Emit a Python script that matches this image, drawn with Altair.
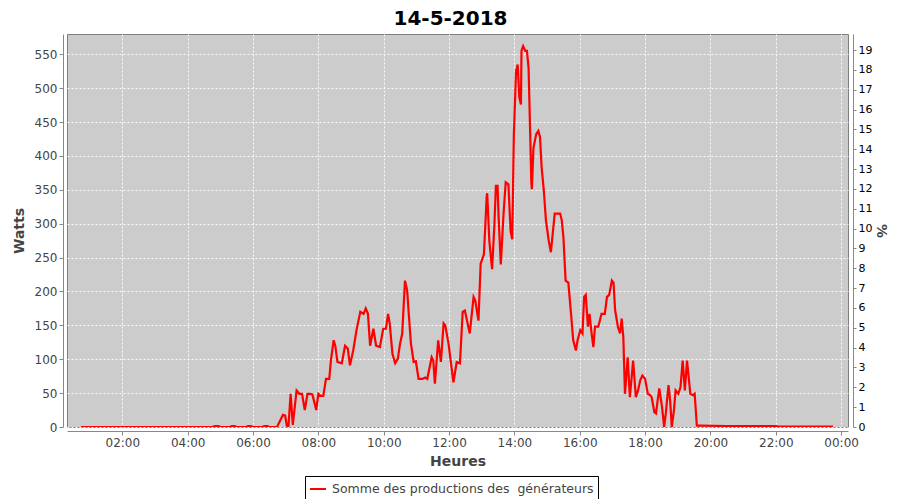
import altair as alt
import pandas as pd

title_text = "14-5-2018"
series_name = "Somme des productions des\u00a0 générateurs"

times = ["00:44", "02:00", "03:00", "04:00", "04:45", "04:50", "04:56", "05:00",
         "05:17", "05:21", "05:26", "05:30", "05:47", "05:51", "05:56", "06:00",
         "06:17", "06:21", "06:26", "06:30", "06:44",
         "06:55", "06:59", "07:02", "07:05", "07:09", "07:13", "07:16", "07:20",
         "07:25", "07:30", "07:35", "07:40", "07:45", "07:49", "07:56", "08:00",
         "08:04", "08:09", "08:14", "08:20", "08:23", "08:28", "08:31", "08:35",
         "08:43", "08:49", "08:54", "08:58", "09:04", "09:10", "09:17", "09:23",
         "09:27", "09:31", "09:35", "09:41", "09:46", "09:53", "09:59", "10:04",
         "10:08", "10:11", "10:16", "10:21", "10:26", "10:30", "10:34", "10:39",
         "10:43", "10:46", "10:50", "10:55", "10:59", "11:04", "11:11", "11:16",
         "11:20", "11:28", "11:31", "11:34", "11:40", "11:45", "11:50", "11:53",
         "11:59", "12:08", "12:14", "12:20", "12:25", "12:29", "12:38", "12:45",
         "12:48", "12:54", "12:58", "13:04", "13:09", "13:10", "13:14", "13:19",
         "13:23", "13:26", "13:29", "13:31", "13:35", "13:40", "13:44", "13:49",
         "13:53", "13:56", "13:59", "14:03", "14:06", "14:09", "14:12", "14:13",
         "14:16", "14:20", "14:23", "14:26", "14:29", "14:31", "14:32", "14:35",
         "14:40", "14:44", "14:47", "14:50", "14:54", "14:58", "15:03", "15:07",
         "15:14", "15:24", "15:27", "15:30", "15:34", "15:39", "15:44", "15:48",
         "15:53", "15:56", "16:01", "16:05", "16:08", "16:11", "16:15", "16:18",
         "16:21", "16:25", "16:28", "16:34", "16:40", "16:46", "16:50", "16:54",
         "16:59", "17:02", "17:05", "17:10", "17:14", "17:17", "17:20", "17:23",
         "17:28", "17:32", "17:38", "17:43", "17:47", "17:51", "17:55", "18:00",
         "18:05", "18:09", "18:12", "18:17", "18:20", "18:23", "18:26", "18:31",
         "18:35", "18:38", "18:43", "18:46", "18:49", "18:53", "18:56", "19:01",
         "19:05", "19:09", "19:13", "19:17", "19:20", "19:23", "19:28", "19:31",
         "19:35", "19:41", "20:30", "21:30", "22:00", "22:05", "23:00", "23:45"]

watts = [0, 0, 0, 0, 0, 1.5, 1.5, 0,
         0, 1.5, 1.5, 0, 0, 1.5, 1.5, 0,
         0, 1.5, 1.5, 0, 0,
         18, 17, 2, 0, 49, 3, 25, 54,
         49, 49, 25, 49, 49, 48, 25, 49,
         46, 46, 71, 71, 98, 128, 120, 96,
         94, 120, 116, 91, 113, 143, 170, 167,
         175, 167, 120, 145, 120, 118, 145, 145,
         167, 153, 108, 94, 101, 123, 138, 216,
         202, 167, 123, 96, 97, 71, 71, 73,
         71, 103, 98, 64, 128, 96, 153, 150,
         123, 66, 96, 94, 170, 172, 138, 192,
         187, 157, 241, 255, 339, 345, 274, 233,
         294, 356, 356, 309, 240, 314, 361, 358,
         289, 277, 432, 525, 535, 486, 476, 555,
         562, 555, 555, 530, 432, 363, 351, 412,
         432, 437, 428, 383, 349, 304, 275, 258,
         315, 315, 305, 280, 216, 213, 167, 128,
         113, 128, 143, 138, 192, 195, 148, 167,
         143, 118, 148, 148, 167, 167, 192, 195,
         216, 213, 172, 148, 138, 160, 133, 49,
         103, 44, 98, 44, 54, 69, 76, 71,
         49, 47, 44, 22, 20, 39, 57, 30,
         0, 20, 62, 39, 0, 25, 54, 49,
         59, 98, 54, 98, 74, 49, 47, 49,
         2, 2, 1.5, 1.5, 1.5, 0.5, 0.5, 0.5]

assert len(times) == len(watts)

x_ticks = [2, 4, 6, 8, 10, 12, 14, 16, 18, 20, 22, 24]
watt_ticks = [0, 50, 100, 150, 200, 250, 300, 350, 400, 450, 500, 550]
pct_ticks = list(range(0, 20))

watts_per_pct = 29.28
x_domain = [0.306, 24.21]
w_domain = [0, 580]
p_domain = [0, 580 / watts_per_pct]

hours = [int(t[:2]) + int(t[3:]) / 60 for t in times]
df = pd.DataFrame({
    "h": hours,
    "w": watts,
    "p": [w / watts_per_pct for w in watts],
    "serie": series_name,
})

label_expr = "(datum.value % 24 < 10 ? '0' : '') + (datum.value % 24) + ':00'"

x_enc = alt.X("h:Q", scale=alt.Scale(domain=x_domain, nice=False, zero=False),
              axis=alt.Axis(values=x_ticks, labelExpr=label_expr, title="Heures",
                            grid=True, offset=4, titlePadding=6))

line = alt.Chart(df).mark_line(strokeWidth=2.2, clip=True).encode(
    x=x_enc,
    y=alt.Y("w:Q", scale=alt.Scale(domain=w_domain, nice=False),
            axis=alt.Axis(values=watt_ticks, title="Watts", grid=True, offset=4,
                          titlePadding=8)),
    color=alt.Color("serie:N", scale=alt.Scale(range=["#ff0000"]),
                    legend=alt.Legend(title=None, orient="none", legendX=238, legendY=442,
                                      symbolType="stroke", symbolStrokeWidth=2,
                                      symbolSize=256, labelFontSize=12.5,
                                      labelColor="#444444", labelFont="DejaVu Sans",
                                      labelLimit=0,
                                      strokeColor="black", fillColor="white",
                                      padding=4, labelOffset=5)),
)

right = alt.Chart(df).mark_line(opacity=0).encode(
    x=x_enc,
    y=alt.Y("p:Q", scale=alt.Scale(domain=p_domain, nice=False),
            axis=alt.Axis(orient="right", values=pct_ticks, title="%", grid=False,
                          offset=5, labelFontSize=11, labelColor="black",
                          tickSize=3, titlePadding=2)),
)

chart = alt.layer(line, right).resolve_scale(y="independent").properties(
    width=781, height=393,
    autosize=alt.AutoSizeParams(type="none"),
    padding={"left": 59, "top": 26, "right": 44, "bottom": 72},
    title=alt.TitleParams(title_text, fontSize=20, font="DejaVu Sans", fontWeight="bold",
                          color="black", anchor="middle", dx=-7, offset=5),
).configure_view(
    fill="#cccccc", stroke="#808080", strokeWidth=1,
).configure_axis(
    labelFont="DejaVu Sans", labelFontSize=12, labelColor="#444444",
    titleFont="DejaVu Sans", titleFontSize=14, titleFontWeight="bold", titleColor="#444444",
    domainColor="#888888", tickColor="#888888", tickSize=4,
    gridColor="white", gridDash=[2, 2], gridOpacity=0.9, gridWidth=1,
).configure_legend(
    labelFont="DejaVu Sans",
)

chart.save("out.html", embed_options={"renderer": "svg", "actions": False})
